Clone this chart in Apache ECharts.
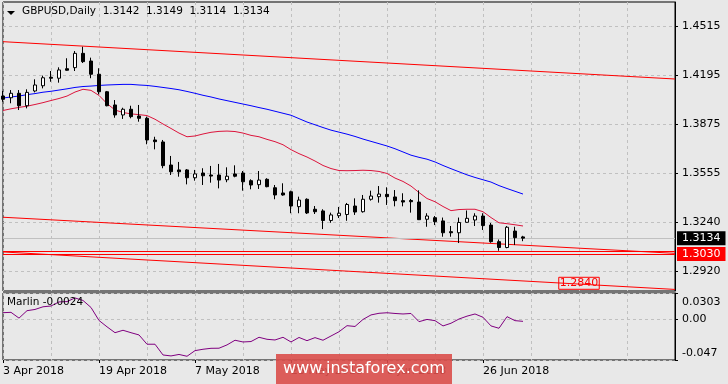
<!DOCTYPE html>
<html><head><meta charset="utf-8">
<script src="https://cdn.jsdelivr.net/npm/echarts@6/dist/echarts.min.js"></script>
<style>html,body{margin:0;padding:0;background:#e8e8e8}#c{width:728px;height:384px}</style>
</head><body><div id="c"></div>
<script>
// ---- data ----
const symbolName = 'GBPUSD,Daily';
const dates = ['3 Apr 2018','4 Apr 2018','5 Apr 2018','6 Apr 2018','9 Apr 2018','10 Apr 2018','11 Apr 2018','12 Apr 2018','13 Apr 2018','16 Apr 2018','17 Apr 2018','18 Apr 2018','19 Apr 2018','20 Apr 2018','23 Apr 2018','24 Apr 2018','25 Apr 2018','26 Apr 2018','27 Apr 2018','30 Apr 2018','1 May 2018','2 May 2018','3 May 2018','4 May 2018','7 May 2018','8 May 2018','9 May 2018','10 May 2018','11 May 2018','14 May 2018','15 May 2018','16 May 2018','17 May 2018','18 May 2018','21 May 2018','22 May 2018','23 May 2018','24 May 2018','25 May 2018','28 May 2018','29 May 2018','30 May 2018','31 May 2018','1 Jun 2018','4 Jun 2018','5 Jun 2018','6 Jun 2018','7 Jun 2018','8 Jun 2018','11 Jun 2018','12 Jun 2018','13 Jun 2018','14 Jun 2018','15 Jun 2018','18 Jun 2018','19 Jun 2018','20 Jun 2018','21 Jun 2018','22 Jun 2018','25 Jun 2018','26 Jun 2018','27 Jun 2018','28 Jun 2018','29 Jun 2018','2 Jul 2018','3 Jul 2018'];
const futureDates = ['4 Jul 2018','5 Jul 2018','6 Jul 2018','9 Jul 2018','10 Jul 2018','11 Jul 2018','12 Jul 2018','13 Jul 2018','16 Jul 2018','17 Jul 2018','18 Jul 2018','19 Jul 2018','20 Jul 2018','23 Jul 2018','24 Jul 2018','25 Jul 2018','26 Jul 2018','27 Jul 2018','30 Jul 2018'];
const opens  = [1.4059,1.4048,1.4077,1.3996,1.4092,1.4126,1.4181,1.4175,1.4237,1.4244,1.4337,1.4287,1.4201,1.4087,1.4001,1.3936,1.3973,1.3929,1.3914,1.3773,1.3760,1.3610,1.3578,1.3578,1.3527,1.3558,1.3545,1.3545,1.3514,1.3552,1.3558,1.3508,1.3482,1.3517,1.3462,1.3428,1.3436,1.3339,1.3387,1.3322,1.3311,1.3249,1.3280,1.3288,1.3343,1.3306,1.3387,1.3404,1.3419,1.3402,1.3378,1.3379,1.3369,1.3257,1.3267,1.3246,1.3176,1.3169,1.3237,1.3252,1.3278,1.3219,1.3111,1.3073,1.3180,1.3142];
const highs  = [1.4092,1.4098,1.4098,1.4103,1.4168,1.4192,1.4222,1.4246,1.4305,1.4352,1.4380,1.4309,1.4240,1.4092,1.4033,1.3983,1.3996,1.4001,1.3925,1.3794,1.3773,1.3669,1.3630,1.3584,1.3578,1.3589,1.3604,1.3617,1.3595,1.3608,1.3571,1.3517,1.3571,1.3524,1.3480,1.3491,1.3443,1.3404,1.3393,1.3343,1.3322,1.3300,1.3337,1.3363,1.3393,1.3415,1.3443,1.3473,1.3465,1.3447,1.3426,1.3389,1.3445,1.3296,1.3278,1.3268,1.3213,1.3268,1.3314,1.3296,1.3296,1.3233,1.3125,1.3213,1.3208,1.3149];
const lows   = [1.4022,1.4012,1.3968,1.3979,1.4083,1.4109,1.4152,1.4146,1.4224,1.4222,1.4274,1.4175,1.4070,1.3992,1.3918,1.3910,1.3914,1.3892,1.3745,1.3712,1.3589,1.3545,1.3534,1.3484,1.3508,1.3480,1.3495,1.3458,1.3498,1.3530,1.3443,1.3452,1.3454,1.3465,1.3387,1.3410,1.3296,1.3296,1.3291,1.3291,1.3193,1.3234,1.3265,1.3247,1.3285,1.3300,1.3378,1.3365,1.3350,1.3341,1.3341,1.3300,1.3252,1.3208,1.3219,1.3143,1.3143,1.3102,1.3234,1.3213,1.3187,1.3104,1.3052,1.3068,1.3089,1.3114];
const closes = [1.4038,1.4077,1.3996,1.4083,1.4131,1.4178,1.4175,1.4229,1.4227,1.4337,1.4283,1.4201,1.4087,1.3996,1.3936,1.3973,1.3925,1.3914,1.3773,1.3762,1.3606,1.3566,1.3566,1.3527,1.3552,1.3540,1.3538,1.3512,1.3537,1.3537,1.3501,1.3480,1.3512,1.3469,1.3415,1.3415,1.3343,1.3382,1.3298,1.3306,1.3249,1.3285,1.3296,1.3353,1.3304,1.3387,1.3408,1.3421,1.3404,1.3378,1.3369,1.3371,1.3254,1.3278,1.3241,1.3169,1.3169,1.3236,1.3263,1.3278,1.3216,1.3111,1.3073,1.3205,1.3137,1.3134];
const maFast = [1.3965,1.3976,1.3985,1.3993,1.4004,1.4016,1.4030,1.4043,1.4059,1.4085,1.4103,1.4096,1.4063,1.4010,1.3968,1.3952,1.3943,1.3938,1.3932,1.3908,1.3877,1.3848,1.3818,1.3794,1.3799,1.3812,1.3823,1.3829,1.3831,1.3828,1.3818,1.3803,1.3794,1.3777,1.3762,1.3742,1.3710,1.3684,1.3662,1.3636,1.3607,1.3587,1.3574,1.3573,1.3574,1.3576,1.3574,1.3568,1.3555,1.3525,1.3503,1.3473,1.3431,1.3392,1.3371,1.3340,1.3313,1.3320,1.3322,1.3322,1.3306,1.3268,1.3234,1.3228,1.3221,1.3213];
const maSlow = [1.4046,1.4053,1.4059,1.4068,1.4075,1.4084,1.4090,1.4098,1.4106,1.4115,1.4121,1.4124,1.4128,1.4131,1.4133,1.4135,1.4135,1.4131,1.4128,1.4122,1.4115,1.4108,1.4100,1.4089,1.4077,1.4064,1.4053,1.4040,1.4029,1.4018,1.4007,1.3996,1.3984,1.3973,1.3960,1.3947,1.3934,1.3912,1.3890,1.3872,1.3854,1.3837,1.3824,1.3811,1.3796,1.3779,1.3764,1.3749,1.3734,1.3716,1.3695,1.3674,1.3660,1.3648,1.3630,1.3607,1.3586,1.3566,1.3546,1.3529,1.3514,1.3499,1.3476,1.3457,1.3439,1.3421];
const marlin = [0.0076,0.0080,0.0013,0.0099,0.0113,0.0144,0.0153,0.0200,0.0204,0.0246,0.0217,0.0136,-0.0014,-0.0087,-0.0155,-0.0127,-0.0155,-0.0181,-0.0288,-0.0288,-0.0412,-0.0423,-0.0406,-0.0427,-0.0362,-0.0346,-0.0335,-0.0334,-0.0296,-0.0242,-0.0262,-0.0257,-0.0208,-0.0231,-0.0239,-0.0208,-0.0262,-0.0210,-0.0247,-0.0212,-0.0242,-0.0193,-0.0144,-0.0074,-0.0083,-0.0002,0.0050,0.0069,0.0075,0.0067,0.0061,0.0067,-0.0028,-0.0002,-0.0016,-0.0077,-0.0046,0.0003,0.0036,0.0061,0.0023,-0.0077,-0.0104,0.0030,-0.0016,-0.0024];
const upperLine  = [1.4413, 1.4170];   // value at first and last slot
const middleLine = [1.3270, 1.3035];
const lowerLine  = [1.3044, 1.2800];
const hLevels = [1.3046, 1.3030];
const labelledLevel = 1.3030;
const lowerLineLabel = {slot: 72, value: 1.2840};
const priceTicks = [1.2920, 1.3240, 1.3555, 1.3875, 1.4195, 1.4515];
const priceRange = [1.27898, 1.46713];
const marlinTicks = [-0.047, 0, 0.0303];
const marlinTickLabels = ['-0.047', '0.00', '0.0303'];

// ---- chart ----
const slots = dates.concat(futureDates);
const last = dates.length - 1;
const lastSlot = slots.length - 1;
const F = '"DejaVu Sans", Verdana, sans-serif';
const gridDash = {color: '#c0c0c0', type: [3, 3], width: 1};
const candles = opens.map((o, i) => [o, closes[i], lows[i], highs[i]]);
const ohlcText = [opens[last], highs[last], lows[last], closes[last]].map(v => v.toFixed(4)).join('  ');
const labelSlot = (i) => i % 12 === 0 && i <= last;

const chart = echarts.init(document.getElementById('c'), null, {renderer: 'canvas'});
chart.setOption({
  animation: false,
  backgroundColor: '#e8e8e8',
  grid: [
    {left: 3, top: 2, width: 672, height: 289, show: true, borderColor: '#000', borderWidth: 1, backgroundColor: 'transparent'},
    {left: 3, top: 293, width: 672, height: 67, show: true, borderColor: '#000', borderWidth: 1, backgroundColor: 'transparent'}
  ],
  xAxis: [
    {gridIndex: 0, type: 'category', data: slots, boundaryGap: false,
     axisLine: {show: false, onZero: false}, axisTick: {show: false}, axisLabel: {show: false},
     splitLine: {show: true, interval: 5, lineStyle: gridDash}},
    {gridIndex: 1, type: 'category', data: slots, boundaryGap: false, position: 'bottom',
     axisLine: {show: false, onZero: false},
     axisTick: {show: true, interval: labelSlot, length: 3, lineStyle: {color: '#000'}},
     axisLabel: {show: true, interval: labelSlot, align: 'left', margin: 6, color: '#000', fontFamily: F, fontSize: 11},
     splitLine: {show: true, interval: 5, lineStyle: gridDash}}
  ],
  yAxis: [
    {gridIndex: 0, type: 'value', position: 'right', min: priceRange[0], max: priceRange[1],
     axisLine: {show: true, lineStyle: {color: '#000'}},
     axisTick: {show: true, length: 3, customValues: priceTicks, lineStyle: {color: '#000'}},
     axisLabel: {show: true, customValues: priceTicks, margin: 7, color: '#000', fontFamily: F, fontSize: 11, formatter: v => v.toFixed(4)},
     splitLine: {show: true, lineStyle: gridDash}},
    {gridIndex: 1, type: 'value', position: 'right', min: marlinTicks[0], max: marlinTicks[2],
     axisLine: {show: true, lineStyle: {color: '#000'}},
     axisTick: {show: true, length: 3, customValues: marlinTicks, lineStyle: {color: '#000'}},
     axisLabel: {show: true, customValues: marlinTicks, margin: 7, color: '#000', fontFamily: F, fontSize: 11,
       verticalAlignMinLabel: 'bottom', verticalAlignMaxLabel: 'top',
       formatter: v => {
         const i = marlinTicks.findIndex(t => Math.abs(t - v) < 1e-9);
         if (i === 2) return '{mx|' + marlinTickLabels[i] + '}';
         if (i === 0) return '{mn|' + marlinTickLabels[i] + '}';
         return i >= 0 ? marlinTickLabels[i] : '';
       },
       rich: {
         mx: {fontFamily: F, fontSize: 11, color: '#000', padding: [4, 0, 0, 0]},
         mn: {fontFamily: F, fontSize: 11, color: '#000', padding: [0, 0, 1, 0]}
       }},
     splitLine: {show: true, lineStyle: gridDash}}
  ],
  series: [
    {type: 'line', name: 'upper', xAxisIndex: 0, yAxisIndex: 0, data: [[0, upperLine[0]], [lastSlot, upperLine[1]]],
     symbol: 'none', lineStyle: {color: '#ff0000', width: 1}, z: 3, silent: true},
    {type: 'line', name: 'middle', xAxisIndex: 0, yAxisIndex: 0, data: [[0, middleLine[0]], [lastSlot, middleLine[1]]],
     symbol: 'none', lineStyle: {color: '#ff0000', width: 1}, z: 3, silent: true},
    {type: 'line', name: 'lower', xAxisIndex: 0, yAxisIndex: 0, data: [[0, lowerLine[0]], [lastSlot, lowerLine[1]]],
     symbol: 'none', lineStyle: {color: '#ff0000', width: 1}, z: 3, silent: true,
     markPoint: {symbol: 'rect', symbolSize: 0, silent: true,
       data: [{coord: [lowerLineLabel.slot, lowerLineLabel.value], value: lowerLineLabel.value}],
       label: {show: true, position: 'inside', formatter: p => p.value.toFixed(4), color: '#ff0000', fontFamily: F, fontSize: 11,
         borderColor: '#ff0000', borderWidth: 1, padding: [1, 1, 0, 1]}},
     markLine: {symbol: ['none', 'none'], silent: true, precision: 6,
       data: [
         {yAxis: hLevels[0], lineStyle: {color: '#ff0000', type: 'solid', width: 1}, label: {show: false}},
         {yAxis: hLevels[1], lineStyle: {color: '#ff0000', type: 'solid', width: 1},
          label: {show: true, position: 'end', distance: 2, formatter: labelledLevel.toFixed(4), color: '#fff', backgroundColor: '#ff0000',
                  fontFamily: F, fontSize: 11, padding: [2, 5, 1, 5]}},
         {yAxis: closes[last], lineStyle: {color: '#c0c0c0', type: 'solid', width: 1},
          label: {show: true, position: 'end', distance: 2, formatter: closes[last].toFixed(4), color: '#fff', backgroundColor: '#000',
                  fontFamily: F, fontSize: 11, padding: [2, 5, 1, 5]}}
       ]}},
    {type: 'line', name: 'MA slow', xAxisIndex: 0, yAxisIndex: 0, data: maSlow, symbol: 'none',
     lineStyle: {color: '#0000ff', width: 1}, z: 4, silent: true},
    {type: 'line', name: 'MA fast', xAxisIndex: 0, yAxisIndex: 0, data: maFast, symbol: 'none',
     lineStyle: {color: '#dc143c', width: 1}, z: 4, silent: true},
    {type: 'candlestick', name: symbolName, xAxisIndex: 0, yAxisIndex: 0, data: candles, barWidth: 4, z: 5,
     itemStyle: {color: '#ffffff', color0: '#000000', borderColor: '#000000', borderColor0: '#000000', borderWidth: 1}},
    {type: 'line', name: 'Marlin', xAxisIndex: 1, yAxisIndex: 1, data: marlin, symbol: 'none',
     lineStyle: {color: '#800080', width: 1}, silent: true}
  ],
  graphic: [
    {type: 'polygon', z: 100, shape: {points: [[7, 11], [15, 11], [11, 15]]}, style: {fill: '#000'}},
    {type: 'text', z: 100, left: 22, top: 6, style: {text: symbolName + '  ' + ohlcText, font: '10.5px ' + F, fill: '#000'}},
    {type: 'text', z: 100, left: 7, top: 297, style: {text: 'Marlin ' + marlin[last].toFixed(4), font: '10.5px ' + F, fill: '#000'}},
    {type: 'group', z: 100, left: 276, top: 354, children: [
      {type: 'rect', z: 100, shape: {x: 0, y: 0, width: 176, height: 30}, style: {fill: 'rgba(218,78,74,0.9)'}},
      {type: 'text', z: 101, x: 88, y: 15, style: {text: 'www.instaforex.com', font: '16px ' + F, fill: '#fff', align: 'center', verticalAlign: 'middle'}}
    ]}
  ]
});
</script></body></html>
